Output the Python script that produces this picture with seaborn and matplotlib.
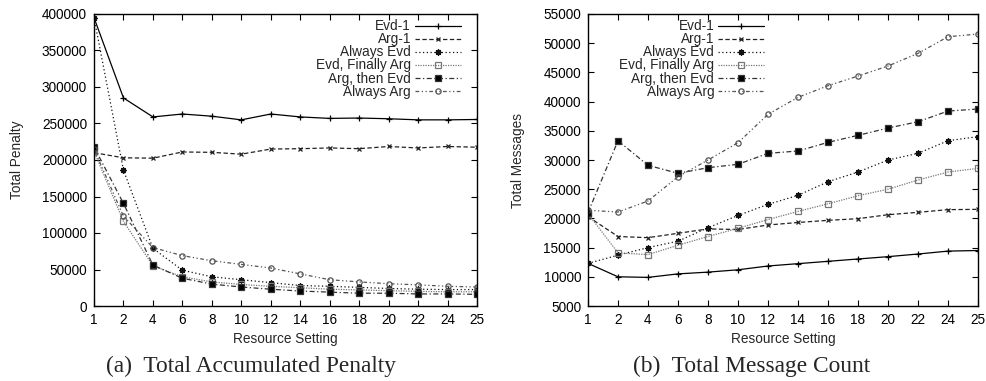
import matplotlib
matplotlib.use("Agg")
import matplotlib.pyplot as plt
import seaborn as sns
import pandas as pd

sns.set_theme(style="ticks")
plt.rcParams['font.family'] = ['Liberation Sans', 'DejaVu Sans']

settings = ["1", "2", "4", "6", "8", "10", "12", "14", "16", "18", "20", "22", "24", "25"]

series_names = ["Evd-1", "Arg-1", "Always Evd", "Evd, Finally Arg", "Arg, then Evd", "Always Arg"]

# Total accumulated penalty
pen_evd1 = [395000, 285000, 259000, 263000, 260000, 255000, 263000, 259000, 257000, 257500, 256500, 255000, 255000, 255500]
pen_arg1 = [210000, 203000, 202500, 211000, 210500, 208000, 215000, 215500, 216500, 215500, 218500, 216500, 218500, 217500]
pen_always_evd = [395000, 186000, 79000, 49000, 40000, 36000, 32000, 28000, 27000, 25500, 24000, 23000, 22500, 22500]
pen_evd_fin_arg = [212000, 116000, 55000, 40000, 33000, 29500, 27000, 25000, 23000, 22000, 21000, 20000, 19500, 19500]
pen_arg_then_evd = [218000, 140500, 56000, 38000, 30000, 26000, 23000, 20500, 19000, 17500, 17500, 16500, 16500, 16000]
pen_always_arg = [215000, 123000, 80000, 69000, 62000, 57000, 52000, 44000, 36000, 33000, 30500, 29000, 27000, 26000]

# Total message count
msg_evd1 = [12300, 10000, 9900, 10500, 10800, 11200, 11850, 12250, 12650, 13050, 13450, 13900, 14400, 14500]
msg_arg1 = [20300, 16900, 16700, 17450, 18200, 18100, 18870, 19300, 19670, 19950, 20630, 21040, 21500, 21550]
msg_always_evd = [12300, 13700, 15000, 16100, 18400, 20500, 22400, 23950, 26280, 27940, 30000, 31140, 33300, 34000]
msg_evd_fin_arg = [20800, 14100, 13800, 15400, 16900, 18300, 19800, 21200, 22500, 23880, 25000, 26570, 27940, 28570]
msg_arg_then_evd = [21000, 33300, 29090, 27720, 28680, 29260, 31140, 31540, 33020, 34220, 35470, 36550, 38380, 38730]
msg_always_arg = [21400, 21090, 22980, 27140, 30000, 32960, 37820, 40730, 42720, 44380, 46090, 48260, 51110, 51570]

styles = {
    "Evd-1": dict(color="black", marker="+", dashes=None, ms=5, mfc="black"),
    "Arg-1": dict(color="#222222", marker="x", dashes=(3.5, 2), ms=3.5, mfc="black"),
    "Always Evd": dict(color="#111111", marker=(8, 2, 0), dashes=(1, 2), ms=4.5, mfc="black"),
    "Evd, Finally Arg": dict(color="#777777", marker="s", dashes=(1, 1), ms=3.8, mfc="none"),
    "Arg, then Evd": dict(color="#333333", marker="s", dashes=(4, 2, 1, 2), ms=4.3, mfc="black"),
    "Always Arg": dict(color="#555555", marker="o", dashes=(3, 2, 1, 2, 1, 2), ms=3.8, mfc="none"),
}

fig = plt.figure(figsize=(9.87, 3.81), dpi=100)
ax1 = fig.add_axes([94 / 987, 1 - 306 / 381, (477 - 94) / 987, 292 / 381])
ax2 = fig.add_axes([588 / 987, 1 - 306 / 381, (978 - 588) / 987, 292 / 381])

def draw(ax, data_list, ylim, yticks, ylabel, legend_x):
    for name, vals in zip(series_names, data_list):
        st = styles[name]
        df = pd.DataFrame({"x": settings, "y": vals})
        sns.lineplot(data=df, x="x", y="y", ax=ax, color=st["color"], marker=st["marker"],
                     markersize=st["ms"], markerfacecolor=st["mfc"],
                     markeredgecolor=st["color"], markeredgewidth=0.9,
                     linewidth=0.9, label=name, sort=False)
        ln = ax.get_lines()[-1]
        if st["dashes"] is not None:
            ln.set_dashes(st["dashes"])
    ax.set_xlim(0, len(settings) - 1)
    ax.set_ylim(*ylim)
    ax.set_yticks(yticks)
    ax.set_yticklabels([str(v) for v in yticks])
    ax.set_xticks(range(len(settings)))
    ax.set_xticklabels(settings)
    ax.tick_params(direction="in", top=True, right=True, length=4, width=0.8,
                   labelsize=9.8, colors="black", pad=5)
    for s in ax.spines.values():
        s.set_visible(True)
        s.set_linewidth(1.0)
        s.set_color("black")
    ax.set_xlabel("Resource Setting", fontsize=9.8, labelpad=4)
    ax.set_ylabel(ylabel, fontsize=9.8, labelpad=13)
    leg = ax.legend(loc="upper right", bbox_to_anchor=(legend_x, 1.005), frameon=False,
                    markerfirst=False, fontsize=9.8, handlelength=3.4, handletextpad=0.3,
                    labelspacing=-0.07, borderaxespad=0.1)
    return leg

draw(ax1, [pen_evd1, pen_arg1, pen_always_evd, pen_evd_fin_arg, pen_arg_then_evd, pen_always_arg],
     (0, 400000), list(range(0, 400001, 50000)), "Total Penalty", 0.977)
draw(ax2, [msg_evd1, msg_arg1, msg_always_evd, msg_evd_fin_arg, msg_arg_then_evd, msg_always_arg],
     (5000, 55000), list(range(5000, 55001, 5000)), "Total Messages", 0.47)

fig.text(251 / 987, 1 - 366 / 381, "(a)  Total Accumulated Penalty", ha="center", va="center",
         fontsize=16.8, family="Liberation Serif")
fig.text(752 / 987, 1 - 366 / 381, "(b)  Total Message Count", ha="center", va="center",
         fontsize=16.8, family="Liberation Serif")

fig.savefig("out.png", dpi=100)
